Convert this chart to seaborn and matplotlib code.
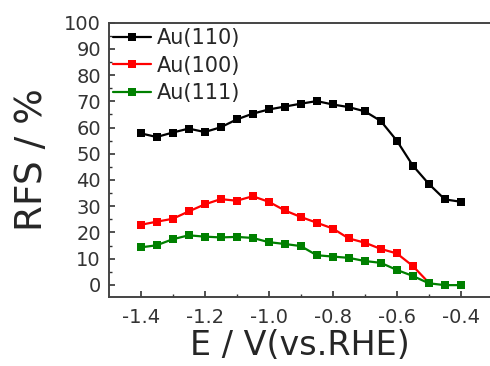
import numpy as np
import pandas as pd
import matplotlib
matplotlib.use("Agg")
import matplotlib.pyplot as plt
import seaborn as sns
from matplotlib.ticker import MultipleLocator

# potentials (V vs RHE)
potential = [-1.40, -1.35, -1.30, -1.25, -1.20, -1.15, -1.10, -1.05, -1.00, -0.95, -0.90,
             -0.85, -0.80, -0.75, -0.70, -0.65, -0.60, -0.55, -0.50, -0.45, -0.40]

au110 = [57.8, 56.4, 58.1, 59.6, 58.3, 60.1, 63.1, 65.3, 66.9, 68.0, 69.1,
         70.1, 68.8, 67.8, 66.2, 62.5, 55.0, 45.5, 38.5, 32.6, 31.7]
au100 = [22.9, 24.1, 25.2, 28.0, 30.7, 32.7, 32.1, 33.8, 31.7, 28.4, 25.9,
         23.7, 21.5, 17.7, 16.1, 13.7, 12.0, 7.2, 0.8]
au111 = [14.3, 15.1, 17.4, 18.9, 18.4, 18.1, 18.3, 17.9, 16.3, 15.6, 14.8,
         11.3, 10.8, 10.3, 9.1, 8.4, 5.7, 3.4, 0.6, -0.1, -0.1]

labels = ["Au(110)", "Au(100)", "Au(111)"]
colors = ["black", "#ff0000", "#008000"]

frames = []
for lab, vals in zip(labels, [au110, au100, au111]):
    frames.append(pd.DataFrame({"E": potential[:len(vals)], "RFS": vals, "facet": lab}))
df = pd.concat(frames, ignore_index=True)

sns.set_style("ticks")
plt.rcParams["font.family"] = ["DejaVu Sans"]

fig = plt.figure(figsize=(4.9, 3.66), dpi=100)
ax = fig.add_axes([0.223, 0.188, 0.777, 0.750])

for lab, col in zip(labels, colors):
    sub = df[df["facet"] == lab]
    sns.lineplot(data=sub, x="E", y="RFS", ax=ax, color=col, marker="s",
                 markersize=5.5, markeredgewidth=0, linewidth=1.6, label=lab,
                 estimator=None, sort=False)

ax.set_xlim(-1.498, -0.309)
ax.set_ylim(-4.7, 100)
ax.xaxis.set_minor_locator(MultipleLocator(0.1))
ax.yaxis.set_major_locator(MultipleLocator(10))
ax.yaxis.set_minor_locator(MultipleLocator(5))
ax.set_xticks(np.arange(-1.4, -0.39, 0.2))
ax.set_xticklabels(["-1.4", "-1.2", "-1.0", "-0.8", "-0.6", "-0.4"])

ax.tick_params(which="major", direction="in", length=4, width=1.2, labelsize=14,
               labelcolor="#333333", color="#333333")
ax.tick_params(axis="x", which="major", pad=8)
ax.tick_params(axis="y", which="major", pad=6)
ax.tick_params(which="minor", direction="in", length=2, width=1.0, color="#333333")

for s in ["left", "bottom", "top"]:
    ax.spines[s].set_linewidth(1.4)
    ax.spines[s].set_color("#444444")
ax.spines["right"].set_visible(False)

ax.set_xlabel("E / V(vs.RHE)", fontsize=24, labelpad=1)
ax.set_ylabel("RFS / %", fontsize=27, labelpad=10)

ax.legend(loc="upper left", bbox_to_anchor=(0.0, 0.995), frameon=False, fontsize=15,
          handlelength=1.8, handletextpad=0.3, labelspacing=0.35, borderaxespad=0,
          borderpad=0.2)

fig.savefig("out.png", dpi=100)
